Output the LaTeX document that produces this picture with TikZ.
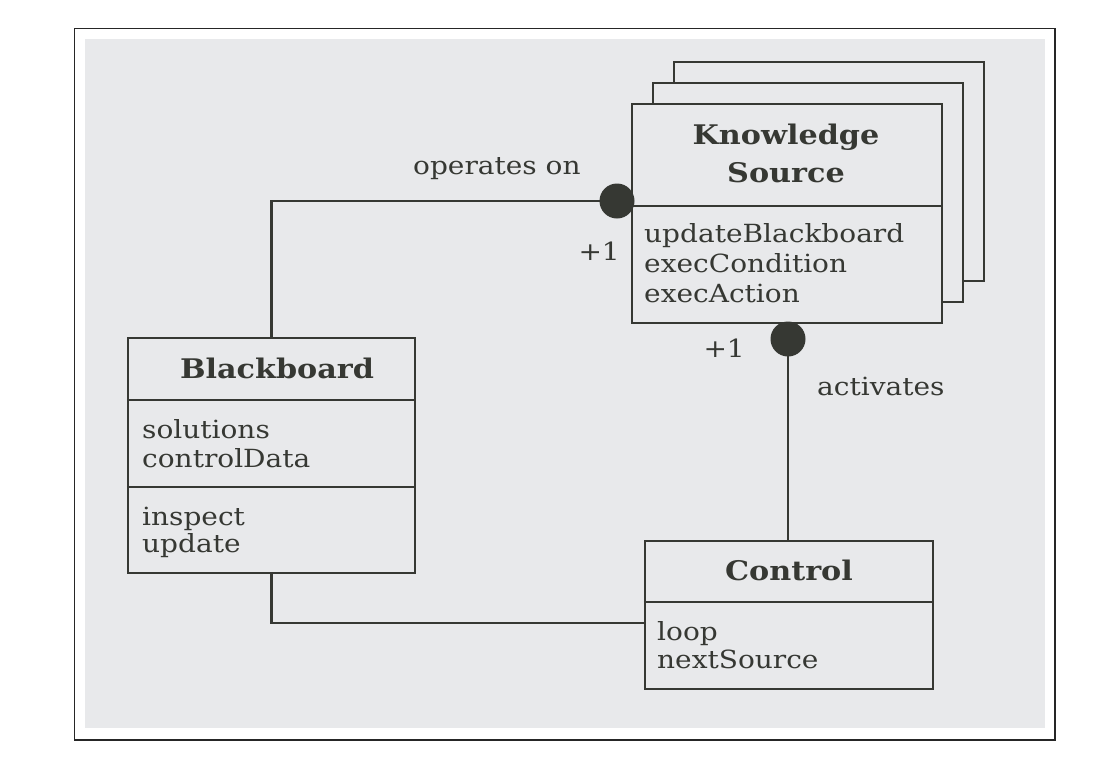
\documentclass[tikz,border=0pt]{standalone}
\usepackage{fontspec}
\setmainfont{DejaVu Serif}[FakeStretch=1.12]
\definecolor{bgc}{HTML}{E8E9EB}
\definecolor{ink}{HTML}{363833}
\definecolor{txtc}{HTML}{363833}
\tikzset{
  umlbox/.style={draw=ink, line width=2.2pt, fill=bgc, inner sep=0pt},
  divider/.style={draw=ink, line width=2.2pt},
  conn/.style={draw=ink, line width=2.2pt},
  dot/.style={circle, fill=ink, minimum size=35pt, inner sep=0pt},
  txt/.style={anchor=base west, inner sep=0pt, text=txtc, font=\fontsize{25}{29}\selectfont},
  txtr/.style={txt, anchor=base east},
  ttl/.style={anchor=base, inner sep=0pt, text=txtc, font=\fontsize{27}{31}\selectfont\bfseries},
}
\begin{document}
\begin{tikzpicture}[x=1pt,y=-1pt]
\useasboundingbox (0,0) rectangle (1117,774);
\fill[white] (0,0) rectangle (1117,774);
\draw[line width=1.5pt, black!85] (74.5,28.5) rectangle (1055,740);
\fill[bgc] (85,39) rectangle (1045,728);

% knowledge source stack
\node[umlbox, minimum width=310pt, minimum height=219pt] (ks3) at (829,171.5) {};
\node[umlbox, minimum width=310pt, minimum height=219pt] (ks2) at (808,192.5) {};
\node[umlbox, minimum width=310pt, minimum height=219pt] (ks) at (787,213.5) {};
\draw[divider] (ks.west |- 0,206) -- (ks.east |- 0,206);
\node[ttl] (ksT1) at (786,144) {Knowledge};
\node[ttl] (ksT2) at (786,182) {Source};
\node[txt] (ksA) at (644,242) {updateBlackboard};
\node[txt] (ksB) at (644,272) {execCondition};
\node[txt] (ksC) at (644,302) {execAction};

% blackboard
\node[umlbox, minimum width=287pt, minimum height=235pt] (bb) at (271.5,455.5) {};
\draw[divider] (bb.west |- 0,400) -- (bb.east |- 0,400);
\draw[divider] (bb.west |- 0,487) -- (bb.east |- 0,487);
\node[ttl] (bbT) at (277,378) {Blackboard};
\node[txt] (bbA) at (142,438) {solutions};
\node[txt] (bbB) at (142,467) {controlData};
\node[txt] (bbC) at (142,525) {inspect};
\node[txt] (bbD) at (142,552) {update};

% control
\node[umlbox, minimum width=288pt, minimum height=148pt] (ctrl) at (789,615) {};
\draw[divider] (ctrl.west |- 0,602) -- (ctrl.east |- 0,602);
\node[ttl] (ctT) at (789,580) {Control};
\node[txt] (ctA) at (657,640) {loop};
\node[txt] (ctB) at (657,668) {nextSource};

% dots
\node[dot] (d1) at (617,201) {};
\node[dot] (d2) at (788,339) {};

% connectors
\draw[conn] (d1.center) -| (bb.north);
\draw[conn] (bb.south) |- ([yshift=-8pt]ctrl.west);
\draw[conn] (d2.center) -- (d2.center |- ctrl.north);

% labels
\node[txt] (lOp) at (413,174) {operates on};
\node[txtr] (lM1) at (620,260) {+1};
\node[txtr] (lM2) at (745,357) {+1};
\node[txt] (lAc) at (817,395) {activates};
\end{tikzpicture}
\end{document}
